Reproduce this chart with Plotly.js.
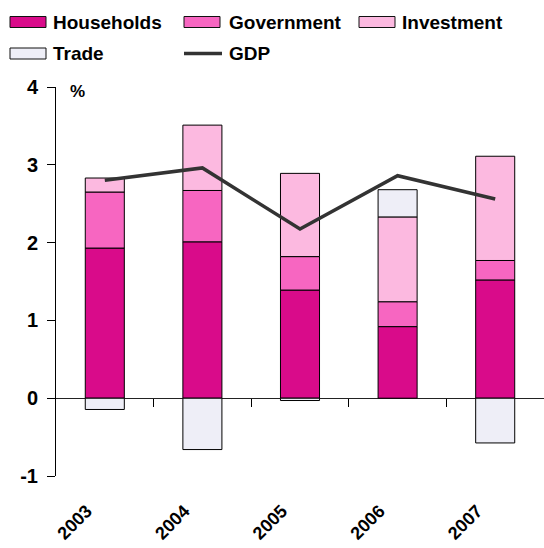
<!DOCTYPE html>
<html>
<head>
<meta charset="utf-8">
<script src="https://cdn.plot.ly/plotly-3.0.1.min.js"></script>
<style>html,body{margin:0;padding:0;background:#fff}#chart{width:544px;height:548px}</style>
</head>
<body>
<div id="chart"></div>
<script>
const years = ["2003", "2004", "2005", "2006", "2007"];
const households = [1.93, 2.01, 1.39, 0.92, 1.52];
const government = [0.72, 0.66, 0.43, 0.32, 0.25];
const investment = [0.18, 0.84, 1.07, 1.09, 1.34];
const trade = [-0.145, -0.66, -0.03, 0.35, -0.575];
const gdp = [2.80, 2.96, 2.175, 2.86, 2.56];
const seriesNames = ["Households", "Government", "Investment", "Trade", "GDP"];
const seriesColors = ["#D90B8A", "#F766C1", "#FCB9E0", "#EEEEF7", "#333333"];
const yTickVals = [-1, 0, 1, 2, 3, 4];
const yTickText = ["-1", "0", "1", "2", "3", "4"];

const W = 544, H = 548;
const ML = 56, MR = 0, MT = 87, MB = 72;
const PW = W - ML - MR, PH = H - MT - MB;
const px = x => (x - ML) / PW;
const py = y => (H - MB - y) / PH;
const FONT = "Liberation Sans, Arial, Helvetica, sans-serif";

const barSeries = [households, government, investment, trade];
const traces = barSeries.map((vals, i) => ({
  type: "bar",
  name: seriesNames[i],
  x: years,
  y: vals,
  width: 0.4,
  marker: {color: seriesColors[i], line: {color: "#000", width: 1}},
  showlegend: false,
  hoverinfo: "skip"
}));
traces.push({
  type: "scatter",
  mode: "lines",
  name: seriesNames[4],
  x: years,
  y: gdp,
  line: {color: seriesColors[4], width: 3.5},
  showlegend: false
});
traces.push({
  type: "scatter", mode: "markers", x: [], y: [], xaxis: "x2", yaxis: "y",
  showlegend: false, hoverinfo: "skip"
});

// custom legend
const shapes = [];
const annotations = [];
const legendItems = [
  {i: 0, sx: 10, tx: 51, cy: 22},
  {i: 1, sx: 184, tx: 227, cy: 22},
  {i: 2, sx: 359, tx: 400, cy: 22},
  {i: 3, sx: 10, tx: 51, cy: 53.5},
  {i: 4, sx: 184, tx: 227, cy: 53.5}
];
legendItems.forEach(it => {
  if (it.i < 4) {
    shapes.push({type: "rect", xref: "paper", yref: "paper",
      x0: px(it.sx), x1: px(it.sx + 36), y0: py(it.cy + 5.5), y1: py(it.cy - 5.5),
      fillcolor: seriesColors[it.i], line: {color: "#111", width: 1}});
  } else {
    shapes.push({type: "line", xref: "paper", yref: "paper",
      x0: px(it.sx), x1: px(it.sx + 38), y0: py(it.cy), y1: py(it.cy),
      line: {color: seriesColors[4], width: 3.5}});
  }
  annotations.push({xref: "paper", yref: "paper", x: px(it.tx), y: py(it.cy),
    xanchor: "left", yanchor: "middle", showarrow: false,
    text: seriesNames[it.i], font: {family: FONT, size: 19, color: "#000", weight: "bold"}});
});
annotations.push({xref: "paper", yref: "paper", x: px(77), y: py(91),
  xanchor: "center", yanchor: "middle", showarrow: false, text: "%",
  font: {family: FONT, size: 17, color: "#000", weight: "bold"}});

const layout = {
  width: W, height: H,
  margin: {l: ML, r: MR, t: MT, b: MB, pad: 0},
  paper_bgcolor: "#fff", plot_bgcolor: "#fff",
  barmode: "relative",
  showlegend: false,
  font: {family: FONT, color: "#000"},
  xaxis: {
    type: "category", range: [-0.5, 4.5],
    showgrid: false, zeroline: false, showline: false, ticks: "",
    tickangle: -45, tickfont: {family: FONT, size: 18, weight: "bold", color: "#000"},
    ticklabelstandoff: 20, ticklabelshift: -18
  },
  xaxis2: {
    overlaying: "x", anchor: "free", position: 0.2, type: "linear",
    range: [-0.5, 4.5], tickmode: "array", tickvals: [0.5, 1.5, 2.5, 3.5],
    showticklabels: false, ticks: "outside", ticklen: 8, tickwidth: 1, tickcolor: "#000",
    showgrid: false, zeroline: false, showline: false
  },
  yaxis: {
    range: [-1, 4], tickmode: "array", tickvals: yTickVals, ticktext: yTickText,
    showgrid: false, showline: true, linecolor: "#000", linewidth: 1,
    ticks: "outside", ticklen: 8, tickwidth: 1, tickcolor: "#000",
    zeroline: true, zerolinecolor: "#222", zerolinewidth: 1.2,
    tickfont: {family: FONT, size: 20, weight: "bold", color: "#000"},
    ticklabelstandoff: 5
  },
  shapes: shapes,
  annotations: annotations
};

Plotly.newPlot("chart", traces, layout, {staticPlot: true, displayModeBar: false});
</script>
</body>
</html>
